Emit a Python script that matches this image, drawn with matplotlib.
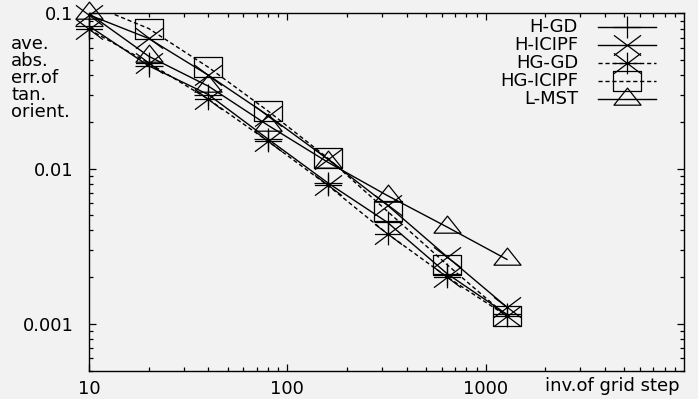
import numpy as np
import matplotlib
matplotlib.use('Agg')
import matplotlib.pyplot as plt
from matplotlib.path import Path
from matplotlib.ticker import NullFormatter

# inverse grid step (x) and averaged absolute error of tangent orientation (y)
steps = [10, 20, 40, 80, 160, 320, 640, 1280]

h_gd = [0.083, 0.046, 0.030, 0.0155, 0.0081, 0.0045, 0.0021, 0.00115]
h_icipf = [0.098, 0.069, 0.040, 0.022, 0.0115, 0.0058, 0.0027, 0.00128]
hg_gd = [0.079, 0.048, 0.028, 0.015, 0.0078, 0.0038, 0.0020, 0.00112]
hg_icipf = [0.115, 0.080, 0.045, 0.0235, 0.0117, 0.0053, 0.0024, 0.00112]
l_mst = [0.100, 0.053, 0.034, 0.019, 0.011, 0.0067, 0.0042, 0.0026]

labels = ['H-GD', 'H-ICIPF', 'HG-GD', 'HG-ICIPF', 'L-MST']
series = [h_gd, h_icipf, hg_gd, hg_icipf, l_mst]

xticks = [10, 100, 1000]
yticks = [0.001, 0.01, 0.1]

# gnuplot-like point shapes (slightly wider than tall)
M, L, C = Path.MOVETO, Path.LINETO, Path.CLOSEPOLY
plus = Path([(-1, 0), (1, 0), (0, -0.8), (0, 0.8)], [M, L, M, L])
cross = Path([(-1, -0.75), (1, 0.75), (-1, 0.75), (1, -0.75)], [M, L, M, L])
star = Path([(-1, 0), (1, 0), (0, -0.8), (0, 0.8),
             (-1, -0.75), (1, 0.75), (-1, 0.75), (1, -0.75)],
            [M, L, M, L, M, L, M, L])
box = Path([(-1, -0.75), (1, -0.75), (1, 0.75), (-1, 0.75), (-1, -0.75)],
           [M, L, L, L, C])
tri = Path([(-1, -0.42), (1, -0.42), (0, 0.84), (-1, -0.42)], [M, L, L, C])

markers = [plus, cross, star, box, tri]
dash = (0, (3, 2))
styles = ['-', '-', dash, dash, '-']

bg = '#f2f2f2'
fig = plt.figure(figsize=(6.98, 3.99), dpi=100, facecolor=bg)
ax = fig.add_axes([0.1275, 0.0714, 0.8525, 0.8948], facecolor=bg)

ymin, ymax = 0.0005, 0.1
ax.set_xscale('log')
ax.set_yscale('log')
ax.set_xlim(10, 10000)
ax.set_ylim(ymin, ymax)

ms = 19.5
for ys, mk, ls in zip(series, markers, styles):
    ys = np.array(ys)
    xs = np.array(steps)
    ax.plot(xs, ys, color='k', lw=1.0, ls=ls)
    inside = ys <= ymax
    ax.plot(xs[inside], ys[inside], ls='none', marker=mk, ms=ms,
            mfc='none', mec='k', mew=0.9, clip_on=False)

ax.set_xticks(xticks)
ax.set_xticklabels([str(t) for t in xticks])
ax.set_yticks(yticks)
ax.set_yticklabels(['0.001', '0.01', '0.1'])
ax.xaxis.set_minor_formatter(NullFormatter())
ax.yaxis.set_minor_formatter(NullFormatter())
ax.tick_params(which='both', direction='in', top=True, right=True, width=0.9)
ax.tick_params(which='major', length=5, labelsize=13)
ax.tick_params(which='minor', length=2.8)
ax.tick_params(axis='x', pad=7)
ax.tick_params(axis='y', pad=11)
for sp in ax.spines.values():
    sp.set_linewidth(1.0)

# key in the upper right, text right-aligned before the sample
for i, (lab, mk, ls) in enumerate(zip(labels, markers, styles)):
    yk = 1 - (13.5 + 18 * i) / 357
    ax.text(0.822, yk, lab, transform=ax.transAxes, ha='right', va='center',
            fontsize=13)
    ax.plot([0.855, 0.953], [yk, yk], transform=ax.transAxes, color='k',
            lw=1.0, ls=ls)
    ax.plot([0.904], [yk], transform=ax.transAxes, ls='none', marker=mk,
            ms=ms, mfc='none', mec='k', mew=0.9)

fig.text(11 / 698, 1 - 35 / 399, 'ave.\nabs.\nerr.of\ntan.\norient.',
         ha='left', va='top', fontsize=13, linespacing=0.93)
fig.text(545 / 698, 1 - 386 / 399, 'inv.of grid step', ha='left',
         va='center', fontsize=13)

fig.savefig('out.png', dpi=100, facecolor=bg)
